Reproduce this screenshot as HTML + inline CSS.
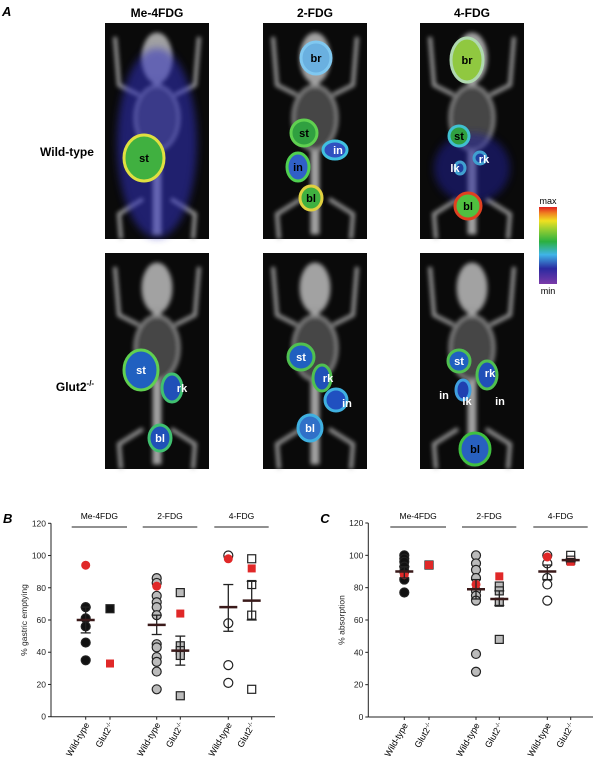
<!DOCTYPE html>
<html><head><meta charset="utf-8"><style>
body{margin:0;background:#fff;width:600px;height:767px;overflow:hidden;font-family:"Liberation Sans",sans-serif}
svg{position:absolute;left:0;top:0}
</style></head><body>
<svg id="fig" width="600" height="767">
<defs>
<filter id="bl2"><feGaussianBlur stdDeviation="2"/></filter>
<filter id="bl4"><feGaussianBlur stdDeviation="4"/></filter>
<linearGradient id="cbar" x1="0" y1="1" x2="0" y2="0">
<stop offset="0" stop-color="#7a3aa8"/><stop offset="0.2" stop-color="#2a2aa0"/><stop offset="0.38" stop-color="#3fb4e8"/><stop offset="0.55" stop-color="#2ab040"/><stop offset="0.72" stop-color="#a0d030"/><stop offset="0.82" stop-color="#f0e020"/><stop offset="0.92" stop-color="#f08020"/><stop offset="1" stop-color="#e02020"/></linearGradient>
</defs>
<g font-weight="bold">
<text x="2" y="16" font-size="13" font-style="italic">A</text>
<text x="157" y="17" font-size="12" text-anchor="middle">Me-4FDG</text>
<text x="315" y="17" font-size="12" text-anchor="middle">2-FDG</text>
<text x="472" y="17" font-size="12" text-anchor="middle">4-FDG</text>
<text x="67" y="156" font-size="12" text-anchor="middle">Wild-type</text>
<text x="75" y="391" font-size="12" text-anchor="middle">Glut2<tspan font-size="8" dy="-5">-/-</tspan></text>
</g>
<g id="imgs"></g>
<g>
<rect x="539" y="207" width="18" height="77" fill="url(#cbar)"/>
<text x="548" y="204" font-size="9" text-anchor="middle">max</text>
<text x="548" y="294" font-size="9" text-anchor="middle">min</text>
</g>
<g id="chartB"></g>
<g id="chartC"></g>
</svg>
<script>
// ---------- Chart data ----------
const groups = ["Me-4FDG", "2-FDG", "4-FDG"];
const genotypes = ["Wild-type", "Glut2"];
const yTicks = [0, 20, 40, 60, 80, 100, 120];
// Panel B: % gastric emptying (per group: WT, Glut2)
const bMe4WT = [68, 61, 56, 46, 35];      const bMe4WTRed = [94];
const bMe4KO = [67];                      const bMe4KORed = [33];
const b2WT = [86, 83, 75, 71, 68, 63, 45, 43, 37, 34, 28, 17]; const b2WTRed = [81];
const b2KO = [77, 44, 41, 38, 13];        const b2KORed = [64];
const b4WT = [100, 58, 32, 21];           const b4WTRed = [98];
const b4KO = [98, 82, 63, 17];            const b4KORed = [92];
const bMeans = [60, null, 57, 41, 68, 72];
const bErrLo = [52, null, 51, 32, 53, 60];
const bErrHi = [68, null, 63, 50, 82, 84];
// Panel C: % absorption
const cMe4WT = [100, 98, 96, 93, 90, 85, 77]; const cMe4WTRed = [88];
const cMe4KO = [94];                      const cMe4KORed = [94];
const c2WT = [100, 95, 91, 86, 78, 75, 72, 39, 28]; const c2WTRed = [82];
const c2KO = [81, 78, 71, 48];            const c2KORed = [87];
const c4WT = [100, 95, 86, 82, 72];       const c4WTRed = [99];
const c4KO = [100, 97];                   const c4KORed = [96];
const cMeans = [90, null, 79, 73, 90, 97];
const cErrLo = [86, null, 73, 69, 85, 96];
const cErrHi = [93, null, 85, 78, 94, 98];

const NS = "http://www.w3.org/2000/svg";
function mk(tag, attrs, parent) {
  const e = document.createElementNS(NS, tag);
  for (const k in attrs) e.setAttribute(k, attrs[k]);
  parent.appendChild(e);
  return e;
}

// ---------- PET images ----------
const imgs = document.getElementById("imgs");
const cols = [105, 263, 420];
const rows = [[23, 216], [253, 216]];
const imgW = 104;
const organs = [
  [0,0,144,158,20,23,"st","#40b040","#e0e040","#000"],
  [1,0,316,58,15,16,"br","#6ab0e0","#80c8f0","#000"],
  [1,0,304,133,13,13,"st","#30a040","#60d050","#000"],
  [1,0,335,150,12,9,"in","#3050c0","#40c0e0","#fff"],
  [1,0,298,167,11,14,"in","#3060c8","#50d050","#000"],
  [1,0,311,198,11,12,"bl","#40b040","#e0d040","#000"],
  [2,0,467,60,16,22,"br","#90c840","#b0d8b0","#000"],
  [2,0,459,136,10,10,"st","#30a040","#40c0d0","#000"],
  [2,0,480,158,6,6,"rk","#2040a0","#40a0d0","#fff"],
  [2,0,460,168,5,6,"lk","#2040a0","#40a0d0","#fff"],
  [2,0,468,206,13,13,"bl","#50c040","#e04020","#000"],
  [0,1,141,370,17,20,"st","#2060c0","#60d050","#fff"],
  [0,1,172,388,10,14,"rk","#2050b8","#40c070","#fff"],
  [0,1,160,438,11,13,"bl","#2050b8","#40c070","#fff"],
  [1,1,301,357,13,13,"st","#2060c0","#50c050","#fff"],
  [1,1,322,378,9,13,"rk","#2050b8","#50c050","#fff"],
  [1,1,336,400,11,11,"in","#2050c0","#40b0e0","#fff"],
  [1,1,310,428,12,13,"bl","#3070c8","#40b0e0","#fff"],
  [2,1,459,361,11,11,"st","#2060c0","#50c050","#fff"],
  [2,1,487,375,10,14,"rk","#2050b8","#50c050","#fff"],
  [2,1,463,390,7,10,"lk","#2040b0","#40a0e0","#fff"],
  [2,1,475,449,15,16,"bl","#2860c0","#40c040","#000"]
];
const extraLabels = [[338,150,"in","#fff"],[484,159,"rk","#fff"],[455,168,"lk","#fff"],[182,388,"rk","#fff"],[328,378,"rk","#fff"],[347,403,"in","#fff"],[490,373,"rk","#fff"],[444,395,"in","#fff"],[467,401,"lk","#fff"],[500,401,"in","#fff"]];
for (let c = 0; c < 3; c++) for (let r = 0; r < 2; r++) {
  const g = mk("g", {}, imgs);
  
  
  const x0 = cols[c], y0 = rows[r][0], h = rows[r][1], cx = x0 + imgW / 2;
  mk("rect", {x: x0, y: y0, width: imgW, height: h, fill: "#0a0a0a"}, g);
  const sk = mk("g", {fill: "#c8c8c8", stroke: "#bbb", opacity: 0.8, filter: "url(#bl2)"}, g);
  mk("ellipse", {cx: cx, cy: y0 + 35, rx: 15, ry: 25}, sk);
  mk("rect", {x: cx - 4, y: y0 + 55, width: 8, height: h - 60}, sk);
  mk("ellipse", {cx: cx, cy: y0 + 95, rx: 22, ry: 32, fill: "#555", stroke: "#aaa", "stroke-width": 3}, sk);
  mk("path", {d: `M${cx-18} ${y0+72} L${x0+14} ${y0+62} L${x0+10} ${y0+14} M${cx+18} ${y0+72} L${x0+imgW-14} ${y0+62} L${x0+imgW-10} ${y0+14}`, fill: "none", "stroke-width": 4}, sk);
  mk("path", {d: `M${cx-14} ${y0+h-40} L${x0+14} ${y0+h-25} L${x0+16} ${y0+h} M${cx+14} ${y0+h-40} L${x0+imgW-14} ${y0+h-25} L${x0+imgW-16} ${y0+h}`, fill: "none", "stroke-width": 4}, sk);
  if (r === 0 && c === 0) mk("ellipse", {cx: cx, cy: y0 + 120, rx: 40, ry: 95, fill: "#3030c0", opacity: 0.55, filter: "url(#bl4)"}, g);
  if (r === 0 && c === 2) mk("ellipse", {cx: cx, cy: y0 + 145, rx: 38, ry: 35, fill: "#2020a0", opacity: 0.5, filter: "url(#bl4)"}, g);
}
organs.forEach(o => {
  const g = mk("g", {}, imgs);
  
  
  mk("ellipse", {cx: o[2], cy: o[3], rx: o[4], ry: o[5], fill: o[7], stroke: o[8], "stroke-width": 3}, g);
  if (!["in","rk","lk"].includes(o[6]) || o[9] === "#000") {
    const t = mk("text", {x: o[2], y: o[3] + 4, "font-size": 11, "font-weight": "bold", "text-anchor": "middle", fill: o[9]}, g);
    t.textContent = o[6];
  }
});
extraLabels.forEach(l => {
  const t = mk("text", {x: l[0], y: l[1] + 4, "font-size": 11, "font-weight": "bold", "text-anchor": "middle", fill: l[3]}, imgs);
  
  
  t.textContent = l[2];
});

// ---------- Scatter charts ----------
function drawChart(root, cfg) {
  const y = v => cfg.y0 - v * (cfg.y0 - cfg.y120) / 120;
  const gAx = mk("g", {stroke: "#222", "stroke-width": 1, fill: "none"}, root);
  
  
  mk("line", {x1: cfg.ax, y1: y(120), x2: cfg.ax, y2: cfg.y0}, gAx);
  mk("line", {x1: cfg.ax, y1: cfg.y0, x2: cfg.axEnd, y2: cfg.y0}, gAx);
  yTicks.forEach(t => {
    mk("line", {x1: cfg.ax - 3, y1: y(t), x2: cfg.ax, y2: y(t)}, gAx);
    const tx = mk("text", {x: cfg.ax - 5, y: y(t) + 3, "font-size": 8.5, "text-anchor": "end", fill: "#222", stroke: "none"}, root);
    
    
    tx.textContent = t;
  });
  const yt = mk("text", {x: 0, y: 0, "font-size": 8.5, "text-anchor": "middle", fill: "#222", transform: `translate(${cfg.ax - 24},${y(60)}) rotate(-90)`}, root);
  
  
  yt.textContent = cfg.title;
  const pl = mk("text", {x: cfg.ax - 48, y: 523, "font-size": 13, "font-weight": "bold", "font-style": "italic"}, root);
  
  
  pl.textContent = cfg.label;
  groups.forEach((gname, i) => {
    const x1 = cfg.xs[i * 2] - 14, x2 = cfg.xs[i * 2 + 1] + 17;
    mk("line", {x1: x1, y1: 527, x2: x2, y2: 527, stroke: "#222"}, root);
    const gt = mk("text", {x: (x1 + x2) / 2, y: 519, "font-size": 8.5, "text-anchor": "middle"}, root);
    
    
    gt.textContent = gname;
  });
  cfg.xs.forEach((x, i) => {
    mk("line", {x1: x, y1: cfg.y0, x2: x, y2: cfg.y0 + 3, stroke: "#222"}, root);
    const lt = mk("text", {x: 0, y: 0, "font-size": 9, "text-anchor": "end", transform: `translate(${x + 4},${cfg.y0 + 8}) rotate(-60)`}, root);
    
    
    if (i % 2 === 0) lt.textContent = "Wild-type";
    else { lt.textContent = "Glut2"; const ts = mk("tspan", {"font-size": 6, dy: -3}, lt); ts.textContent = "-/-"; }
  });
  const fills = ["#111", "#111", "#bbb", "#bbb", "#fff", "#fff"];
  cfg.series.forEach((s, i) => {
    const x = cfg.xs[i], sq = i % 2 === 1;
    const draw = (v, red) => {
      let m;
      if (sq) m = mk("rect", {x: x - 4, y: y(v) - 4, width: 8, height: 8, fill: red ? "#e02828" : fills[i], stroke: red ? "none" : "#222", "stroke-width": 1.2}, root);
      else m = mk("circle", {cx: x, cy: y(v), r: 4.5, fill: red ? "#e02828" : fills[i], stroke: red ? "none" : "#222", "stroke-width": 1.2}, root);
      
      
    };
    s[0].forEach(v => draw(v, false));
    s[1].forEach(v => draw(v, true));
    if (cfg.means[i] != null) {
      const eg = mk("g", {stroke: "#222", "stroke-width": 1.3}, root);
      
      
      mk("line", {x1: x, y1: y(cfg.lo[i]), x2: x, y2: y(cfg.hi[i])}, eg);
      mk("line", {x1: x - 5, y1: y(cfg.lo[i]), x2: x + 5, y2: y(cfg.lo[i])}, eg);
      mk("line", {x1: x - 5, y1: y(cfg.hi[i]), x2: x + 5, y2: y(cfg.hi[i])}, eg);
      mk("line", {x1: x - 9, y1: y(cfg.means[i]), x2: x + 9, y2: y(cfg.means[i]), stroke: "#3a1a1a", "stroke-width": 2.5}, eg);
    }
  });
}
drawChart(document.getElementById("chartB"), {
  ax: 51, axEnd: 275, y0: 716.7, y120: 523.3, label: "B", title: "% gastric emptying",
  xs: [85.7, 110, 156.7, 180.3, 228.3, 251.7],
  series: [[bMe4WT, bMe4WTRed], [bMe4KO, bMe4KORed], [b2WT, b2WTRed], [b2KO, b2KORed], [b4WT, b4WTRed], [b4KO, b4KORed]],
  means: bMeans, lo: bErrLo, hi: bErrHi
});
drawChart(document.getElementById("chartC"), {
  ax: 368.3, axEnd: 593, y0: 717, y120: 523, label: "C", title: "% absorption",
  xs: [404.3, 429, 476, 499.3, 547.3, 570.7],
  series: [[cMe4WT, cMe4WTRed], [cMe4KO, cMe4KORed], [c2WT, c2WTRed], [c2KO, c2KORed], [c4WT, c4WTRed], [c4KO, c4KORed]],
  means: cMeans, lo: cErrLo, hi: cErrHi
});
</script>
</body></html>
